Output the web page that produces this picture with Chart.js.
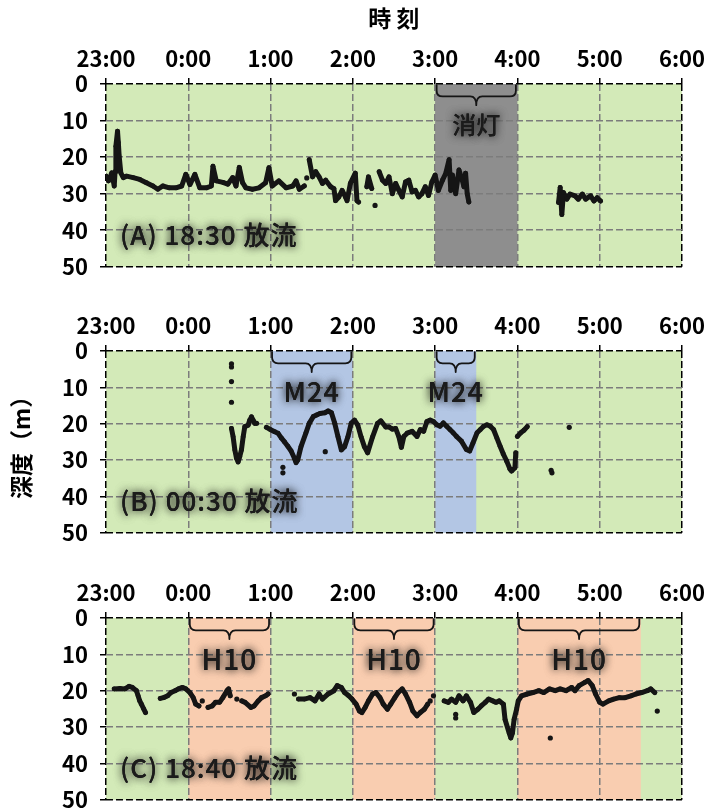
<!DOCTYPE html>
<html lang="ja">
<head>
<meta charset="utf-8">
<title>深度の時間変化</title>
<script src="https://cdn.jsdelivr.net/npm/chart.js@4.4.1/dist/chart.umd.min.js"></script>
<style>
  html, body { margin: 0; padding: 0; background: #fff; overflow: hidden; }
  body { width: 711px; height: 811px; position: relative; }
  .panel { position: absolute; left: 0; width: 711px; }
  canvas { display: block; }
</style>
</head>
<body>
<div class="panel" style="top:0px"><canvas id="panelA" width="711" height="292"></canvas></div>
<div class="panel" style="top:295px"><canvas id="panelB" width="711" height="263"></canvas></div>
<div class="panel" style="top:560px"><canvas id="panelC" width="711" height="265"></canvas></div>
<script>
// Time axis: hours elapsed since 23:00
const timeLabels = ['23:00', '0:00', '1:00', '2:00', '3:00', '4:00', '5:00', '6:00'];
const depthTicks = [0, 10, 20, 30, 40, 50];
const panelNames = ['(A) 18:30 放流', '(B) 00:30 放流', '(C) 18:40 放流'];

// Shaded periods [start, end] in hours since 23:00, and their labels
const bandsA = [[4, 5]];
const bandLabelsA = ['消灯'];
const bandsB = [[2, 3], [4, 4.5]];
const bandLabelsB = ['M24', 'M24'];
const bandsC = [[1, 2], [3, 4], [5, 6.5]];
const bandLabelsC = ['H10', 'H10', 'H10'];

// Depth records [hours since 23:00, depth m]; null depth = gap in the record
const trackA = [
  [0.00, 25.2], [0.03, 26.5], [0.07, 24.3], [0.10, 27.9], [0.11, 24.0], [0.12, 17.0], [0.14, 12.9],
  [0.15, 16.0], [0.16, 19.7], [0.18, 24.3], [0.21, 25.6], [0.25, 25.2], [0.33, 25.6], [0.41, 26.1],
  [0.49, 27.0], [0.57, 27.9], [0.63, 28.8], [0.69, 27.9], [0.77, 28.4], [0.85, 28.4], [0.92, 27.9],
  [0.97, 24.7], [1.02, 27.5], [1.08, 24.7], [1.14, 28.4], [1.22, 28.4], [1.28, 27.9], [1.30, 22.5],
  [1.34, 26.5], [1.42, 26.9], [1.48, 27.4], [1.54, 25.6], [1.58, 27.9], [1.62, 22.8], [1.66, 27.0],
  [1.70, 28.4], [1.78, 28.8], [1.86, 28.4], [1.94, 27.0], [1.98, 22.9], [2.02, 27.9], [2.10, 26.5],
  [2.19, 28.4], [2.27, 27.9], [2.31, 26.5], [2.35, 28.8], [2.41, 27.9], [2.44, null],
  [2.47, 20.7], [2.51, 25.4], [2.55, 24.0], [2.59, 25.4], [2.63, 27.2], [2.67, 26.3], [2.73, 28.1],
  [2.77, 28.6], [2.79, 31.9], [2.83, 30.9], [2.87, 29.1], [2.91, 30.9], [2.93, 31.9], [2.97, 27.2],
  [3.03, 24.4], [3.05, 31.9], [3.07, 32.3], [3.12, null],
  [3.17, 28.1], [3.19, 25.4], [3.23, 28.6], [3.27, null],
  [3.32, 24.0], [3.36, 26.3], [3.40, 27.2], [3.44, 25.4], [3.48, 30.0], [3.52, 27.2], [3.56, 29.1],
  [3.60, 30.9], [3.64, 26.8], [3.68, 26.3], [3.72, 29.5], [3.76, 29.1], [3.80, 30.9], [3.84, 30.0],
  [3.88, 28.1], [3.92, 30.5], [3.96, 26.8], [4.00, 24.9], [4.04, 29.1], [4.09, 26.3], [4.13, 24.4],
  [4.17, 20.7], [4.19, 29.1], [4.21, 24.9], [4.25, 30.0], [4.29, 23.5], [4.33, 26.3], [4.35, 28.1],
  [4.37, 24.4], [4.39, 30.0], [4.41, 32.3], [5.00, null],
  [5.50, 32.4], [5.52, 28.3], [5.54, 35.7], [5.56, 29.7], [5.60, 31.5], [5.64, 30.1], [5.70, 30.6],
  [5.74, 31.5], [5.79, 30.1], [5.83, 31.5], [5.89, 30.6], [5.93, 32.0], [5.97, 31.1], [6.01, 32.0]
];
const dotsA = [[2.44, 25.7], [3.27, 33.2]];

const trackB = [
  [1.525, 21.3], [1.545, 23.6], [1.566, 27.2], [1.586, 29.5], [1.606, 30.5], [1.626, 29.0], [1.646, 27.2],
  [1.667, 23.6], [1.687, 20.8], [1.727, 20.4], [1.747, 19.0], [1.768, 18.1], [1.788, 19.0], [1.808, 19.9],
  [1.88, null],
  [1.95, 21.0], [1.99, 21.5], [2.05, 22.2], [2.09, 22.6], [2.13, 23.9], [2.17, 25.0], [2.21, 26.2],
  [2.25, 27.5], [2.29, 29.5], [2.31, 30.7], [2.33, 30.0], [2.37, 26.3], [2.43, 22.5], [2.47, 19.9],
  [2.52, 18.0], [2.56, 17.6], [2.60, 17.2], [2.66, 17.0], [2.70, 16.5], [2.74, 17.0], [2.78, 19.9],
  [2.82, 23.6], [2.86, 27.2], [2.90, 26.3], [2.94, 23.6], [2.98, 19.9], [3.02, 19.0], [3.06, 20.4],
  [3.10, 23.6], [3.14, 26.3], [3.18, 28.0], [3.24, 23.6], [3.30, 19.9], [3.34, 19.2], [3.40, 20.9],
  [3.44, 20.9], [3.48, 21.5], [3.52, 21.3], [3.56, 23.6], [3.59, 26.5], [3.62, 23.5], [3.66, 22.6],
  [3.72, 22.1], [3.78, 23.5], [3.82, 21.6], [3.86, 22.1], [3.90, 19.4], [3.94, 19.0], [3.98, 19.4],
  [4.02, 20.3], [4.06, 20.7], [4.10, 19.8], [4.14, 20.7], [4.18, 21.6], [4.22, 22.5], [4.26, 23.5],
  [4.32, 24.8], [4.38, 27.1], [4.42, 27.5], [4.46, 25.3], [4.51, 22.5], [4.55, 21.6], [4.59, 20.7],
  [4.63, 20.3], [4.67, 20.7], [4.71, 21.6], [4.75, 23.9], [4.79, 26.2], [4.83, 28.4], [4.87, 30.3],
  [4.91, 32.5], [4.93, 33.0], [4.97, 32.1], [4.98, 28.0], [4.99, null],
  [5.00, 23.5], [5.04, 22.5], [5.08, 21.8], [5.12, 20.8]
];
const dotsB = [
  [1.525, 3.5], [1.525, 4.4], [1.525, 8.4], [1.525, 14.1], [1.83, 19.9], [2.15, 32.0], [2.15, 33.5],
  [2.665, 27.7], [5.41, 32.8], [5.42, 33.5], [5.63, 21.0]
];

const trackC = [
  [0.10, 19.5], [0.17, 19.4], [0.23, 19.5], [0.28, 18.8], [0.32, 19.1], [0.37, 20.0], [0.39, 21.4],
  [0.41, 22.8], [0.43, 23.7], [0.46, 25.1], [0.48, 26.0], [0.57, null],
  [0.66, 22.1], [0.70, 21.9], [0.75, 21.4], [0.79, 20.5], [0.84, 20.0], [0.88, 19.5], [0.93, 19.1],
  [0.97, 19.5], [1.02, 20.5], [1.06, 21.9], [1.09, 23.7], [1.13, 24.2], [1.18, null],
  [1.24, 24.6], [1.29, 24.2], [1.33, 23.2], [1.38, 23.2], [1.42, 21.9], [1.47, 20.0], [1.49, 19.5],
  [1.51, 21.4], [1.58, null],
  [1.65, 22.8], [1.69, 23.2], [1.76, 24.6], [1.80, 24.2], [1.85, 22.8], [1.89, 21.9], [1.94, 21.4],
  [1.97, 20.9], [2.15, null],
  [2.34, 22.3], [2.41, 22.3], [2.48, 21.9], [2.54, 22.8], [2.59, 20.9], [2.63, 22.3], [2.70, 20.9],
  [2.77, 20.0], [2.81, 18.6], [2.86, 19.1], [2.90, 20.5], [2.95, 21.4], [2.99, 22.3], [3.04, 23.7],
  [3.08, 25.6], [3.11, 26.0], [3.15, 24.6], [3.19, 22.8], [3.24, 20.9], [3.28, 20.5], [3.33, 21.9],
  [3.37, 23.7], [3.42, 25.1], [3.46, 23.7], [3.51, 21.9], [3.55, 20.5], [3.60, 19.5], [3.64, 20.9],
  [3.69, 23.2], [3.73, 25.6], [3.78, 26.9], [3.82, 26.0], [3.87, 25.1], [3.91, 23.7], [4.05, null],
  [4.11, 22.8], [4.16, 23.2], [4.20, 22.3], [4.25, 23.2], [4.29, 21.4], [4.34, 22.8], [4.38, 21.4],
  [4.43, 23.2], [4.47, 26.0], [4.52, 25.1], [4.56, 24.2], [4.61, 23.2], [4.65, 22.3], [4.70, 22.8],
  [4.74, 23.2], [4.78, 22.8], [4.83, 23.7], [4.85, 27.9], [4.90, 31.6], [4.92, 33.0], [4.94, 31.6],
  [4.96, 27.9], [4.99, 25.1], [5.01, 22.8], [5.05, 21.4], [5.12, 20.9], [5.19, 20.5], [5.26, 20.0],
  [5.32, 20.5], [5.39, 19.5], [5.46, 20.0], [5.52, 19.5], [5.59, 20.0], [5.66, 19.1], [5.70, 20.0],
  [5.75, 18.6], [5.82, 17.7], [5.86, 17.2], [5.91, 18.6], [5.95, 20.9], [6.00, 23.2], [6.04, 23.7],
  [6.11, 22.8], [6.17, 22.3], [6.24, 21.9], [6.31, 21.9], [6.38, 21.4], [6.44, 20.9], [6.51, 20.5],
  [6.58, 20.0], [6.62, 19.5], [6.67, 20.5]
];
const dotsC = [
  [1.17, 22.8], [1.59, 22.3], [2.29, 20.9], [3.94, 22.8], [3.98, 21.4], [4.25, 26.5], [4.25, 27.5],
  [5.40, 33.0], [6.70, 25.6]
];

const FONT = "'Noto Sans CJK JP', 'Noto Sans', sans-serif";
const GREEN = '#d3eab8';
const INK = '#151515';

// Text with a soft dark halo
function glowText(ctx, text, x, y, font, align, spacing) {
  ctx.save();
  ctx.font = font;
  if ('letterSpacing' in ctx) ctx.letterSpacing = spacing;
  ctx.textAlign = align;
  ctx.textBaseline = 'middle';
  ctx.shadowColor = 'rgba(0,0,0,0.6)';
  ctx.shadowBlur = 8;
  ctx.fillStyle = '#1b1b1b';
  ctx.fillText(text, x, y);
  ctx.fillText(text, x, y);
  ctx.restore();
}

// Curly brace spanning x0..x1, opening downward
function drawBrace(ctx, x0, x1, yTop, yMid, yTip) {
  const xm = (x0 + x1) / 2;
  const r = Math.min(6, yMid - yTop);
  ctx.beginPath();
  ctx.moveTo(x0, yTop);
  ctx.lineTo(x0, yMid - r);
  ctx.quadraticCurveTo(x0, yMid, x0 + r, yMid);
  ctx.lineTo(xm - r, yMid);
  ctx.quadraticCurveTo(xm, yMid, xm, yTip);
  ctx.quadraticCurveTo(xm, yMid, xm + r, yMid);
  ctx.lineTo(x1 - r, yMid);
  ctx.quadraticCurveTo(x1, yMid, x1, yMid - r);
  ctx.lineTo(x1, yTop);
  ctx.stroke();
}

function makeDecor(cfg) {
  return {
    id: 'decor' + cfg.key,
    beforeDraw(chart) {
      const { ctx, chartArea: a, scales: { x } } = chart;
      ctx.save();
      ctx.fillStyle = GREEN;
      ctx.fillRect(a.left, a.top, a.right - a.left, a.bottom - a.top);
      ctx.fillStyle = cfg.bandColor;
      cfg.bands.forEach(([t0, t1]) => {
        const p0 = x.getPixelForValue(t0), p1 = x.getPixelForValue(t1);
        ctx.fillRect(p0, a.top, p1 - p0, a.bottom - a.top);
      });
      ctx.restore();
    },
    afterDatasetsDraw(chart) {
      const { ctx, scales: { x, y } } = chart;
      ctx.save();
      ctx.strokeStyle = INK;
      ctx.lineWidth = 1.8;
      ctx.lineJoin = 'round';
      ctx.lineCap = 'round';
      cfg.bands.forEach(([t0, t1], i) => {
        const p0 = x.getPixelForValue(t0) + 1.5, p1 = x.getPixelForValue(t1) - 1.5;
        drawBrace(ctx, p0, p1, y.getPixelForValue(0.3), y.getPixelForValue(3.4), y.getPixelForValue(5.8));
        glowText(ctx, cfg.bandLabels[i], (p0 + p1) / 2, y.getPixelForValue(11.3), cfg.bandFont, 'center', cfg.bandSpacing);
      });
      glowText(ctx, cfg.name, x.getPixelForValue(0.17), y.getPixelForValue(41.3), '500 26px ' + FONT, 'left', '1px');
      ctx.restore();
    }
  };
}

function edgeColor(min, max) {
  return (c) => (c.tick && (c.tick.value === min || c.tick.value === max)) ? '#000' : '#7c7c7c';
}

function makePanel(cfg) {
  const tickFont = { family: FONT, size: 22, weight: 'bold' };
  return new Chart(document.getElementById(cfg.canvas), {
    type: 'line',
    data: {
      datasets: [
        {
          data: cfg.track.map(([x, y]) => ({ x, y })),
          borderColor: INK, borderWidth: 5, pointRadius: 2.4, pointBackgroundColor: INK,
          pointBorderWidth: 0, spanGaps: false, tension: 0,
          borderCapStyle: 'round', borderJoinStyle: 'round'
        },
        {
          data: cfg.dots.map(([x, y]) => ({ x, y })),
          showLine: false, pointRadius: 2.6, pointBackgroundColor: INK, pointBorderWidth: 0
        }
      ]
    },
    options: {
      responsive: false,
      animation: false,
      events: [],
      layout: { padding: { left: 0, right: 27.5, top: 0, bottom: 25 } },
      plugins: { legend: { display: false }, tooltip: { enabled: false } },
      scales: {
        x: {
          type: 'linear', position: 'top', min: 0, max: 7,
          afterFit: (s) => { s.height = cfg.axisHeight; },
          afterBuildTicks: (s) => { s.ticks = timeLabels.map((_, i) => ({ value: i })); },
          ticks: {
            autoSkip: false, maxRotation: 0, padding: 6, color: '#000', font: tickFont,
            callback: (v, i) => timeLabels[i]
          },
          grid: { color: edgeColor(0, 7), lineWidth: 1.5, tickLength: 6, tickColor: '#000', tickWidth: 1.5 },
          border: { display: false, dash: [7, 3] },
          title: cfg.xTitle
            ? { display: true, text: cfg.xTitle, color: '#000', font: { family: FONT, size: 23, weight: 'bold' }, padding: { top: 4, bottom: 0 } }
            : { display: false }
        },
        y: {
          type: 'linear', reverse: true, min: 0, max: 50,
          afterFit: (s) => { s.width = 106; },
          afterBuildTicks: (s) => { s.ticks = depthTicks.map((v) => ({ value: v })); },
          ticks: { padding: 12, color: '#000', font: tickFont, callback: (v) => String(v) },
          grid: { color: edgeColor(0, 50), lineWidth: 1.5, tickLength: 6, tickColor: '#000', tickWidth: 1.5 },
          border: { display: false, dash: [7, 3] },
          title: cfg.yTitle
            ? { display: true, text: cfg.yTitle, color: '#000', font: { family: FONT, size: 23, weight: 'bold' }, padding: { top: 7, bottom: 0 } }
            : { display: false }
        }
      }
    },
    plugins: [makeDecor(cfg)]
  });
}

makePanel({
  key: 'A', canvas: 'panelA', track: trackA, dots: dotsA, name: panelNames[0],
  bands: bandsA, bandLabels: bandLabelsA, bandColor: '#8e8e8e', bandFont: '500 24px ' + FONT, bandSpacing: '0px',
  axisHeight: 84, xTitle: '時 刻'
});
makePanel({
  key: 'B', canvas: 'panelB', track: trackB, dots: dotsB, name: panelNames[1],
  bands: bandsB, bandLabels: bandLabelsB, bandColor: '#b3c6e4', bandFont: '500 27px ' + FONT, bandSpacing: '1px',
  axisHeight: 56, yTitle: '深度（m）'
});
makePanel({
  key: 'C', canvas: 'panelC', track: trackC, dots: dotsC, name: panelNames[2],
  bands: bandsC, bandLabels: bandLabelsC, bandColor: '#f9cdb0', bandFont: '500 28px ' + FONT, bandSpacing: '1px',
  axisHeight: 58
});
</script>
</body>
</html>
